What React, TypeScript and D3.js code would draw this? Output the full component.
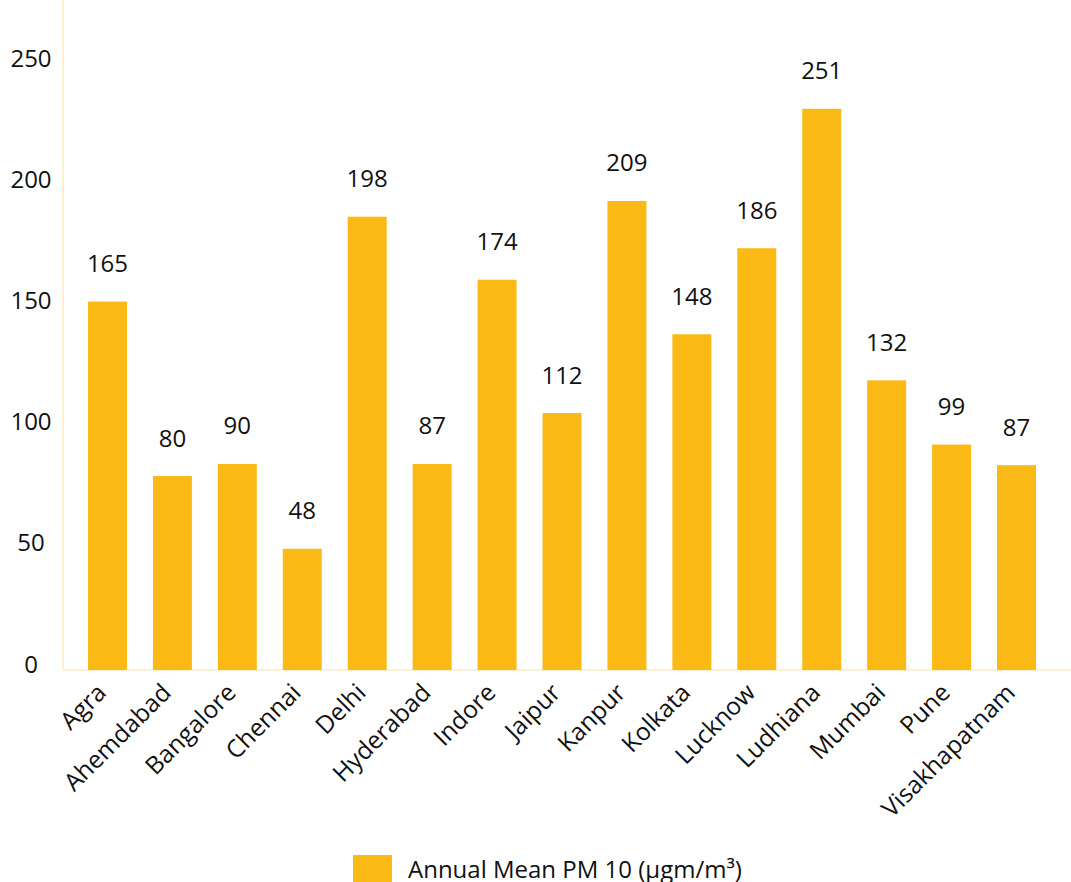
import React from 'react';
import * as d3 from 'd3';

const cities = [
  'Agra', 'Ahemdabad', 'Bangalore', 'Chennai', 'Delhi', 'Hyderabad', 'Indore', 'Jaipur',
  'Kanpur', 'Kolkata', 'Lucknow', 'Ludhiana', 'Mumbai', 'Pune', 'Visakhapatnam',
];
// bar heights as drawn against the axis
const barValues = [152, 80, 85, 50, 187, 85, 161, 106, 193.5, 138.5, 174, 231.5, 119.5, 93, 84.5];
// data labels printed above the bars
const valueLabels = ['165', '80', '90', '48', '198', '87', '174', '112', '209', '148', '186', '251', '132', '99', '87'];
const yTicks = [0, 50, 100, 150, 200, 250];
const seriesName = 'Annual Mean PM 10 (μgm/m³)';

const W = 1071;
const H = 882;
const FONT = '"Open Sans", "Noto Sans", sans-serif';
const BAR = '#fbb915';
const AXIS = '#fdecc4';

export default function App() {
  const x = d3.scaleBand<string>()
    .domain(cities)
    .range([63, 1061])
    .paddingInner(0.4)
    .paddingOuter(0.385);

  const y = d3.scaleLinear().domain([0, 250]).range([670, 64]);

  return (
    <svg
      width={W}
      height={H}
      style={{ position: 'absolute', left: 0, top: 0, background: '#fff' }}
      fontFamily={FONT}
    >
      {/* axes */}
      <line x1={63} x2={63} y1={0} y2={y(0)} stroke={AXIS} strokeWidth={1.5} />
      <line x1={63} x2={W} y1={y(0)} y2={y(0)} stroke={AXIS} strokeWidth={1.5} />

      {yTicks.map(t => (
        <text key={t} x={31} y={y(t) - 7} textAnchor="middle" dominantBaseline="central"
          fontSize={24} fill="#111">
          {t}
        </text>
      ))}

      {cities.map((c, i) => {
        const bx = x(c)!;
        const top = y(barValues[i]);
        return (
          <g key={c}>
            <rect x={bx} y={top} width={x.bandwidth()} height={y(0) - top} fill={BAR} />
            <text x={bx + x.bandwidth() / 2} y={top - 39} textAnchor="middle"
              dominantBaseline="central" fontSize={24} fill="#111">
              {valueLabels[i]}
            </text>
            <text
              transform={`translate(${bx + x.bandwidth() / 2 - 12},${y(0) + 12}) rotate(-45)`}
              textAnchor="end" dy="0.7em" fontSize={24.5} fill="#111">
              {c}
            </text>
          </g>
        );
      })}

      {/* legend */}
      <rect x={353} y={855} width={39} height={30} fill={BAR} />
      <text x={408} y={878} fontSize={24} fill="#111">{seriesName}</text>
    </svg>
  );
}
